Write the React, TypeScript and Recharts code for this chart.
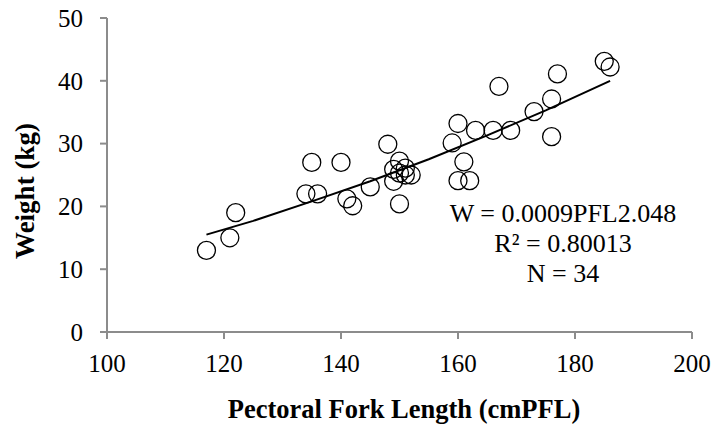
import React from 'react';
import { ScatterChart, Scatter, XAxis, YAxis } from 'recharts';

// Pectoral fork length (cm) and weight (kg) of each fish
const pflValues = [
  117, 121, 122, 134, 135, 136, 140, 141, 142, 145, 148,
  149, 149, 150, 150, 150, 151, 151, 152,
  159, 160, 160, 161, 162, 163, 166, 167, 169, 173, 176, 176, 177, 185, 186,
];
const weightValues = [
  13, 15, 19, 22, 27, 22, 27, 21.2, 20.1, 23.1, 29.9,
  25.9, 24, 27.2, 25.3, 20.4, 26.1, 25, 25,
  30.1, 33.2, 24.1, 27.1, 24.1, 32.1, 32.1, 39.1, 32.1, 35.1, 37.1, 31.1, 41.1, 43.1, 42.2,
];

// power trend line W = 0.0009 PFL^2.048, sampled along the drawn curve
const trendPfl = [117, 125, 135, 145, 155, 165, 175, 186];
const trendWeight = [15.5, 17.7, 20.8, 24.0, 27.5, 31.3, 35.3, 40.0];

const xTicks = [100, 120, 140, 160, 180, 200];
const yTicks = [0, 10, 20, 30, 40, 50];

const equationLines = ['W = 0.0009PFL2.048', 'R² = 0.80013', 'N = 34'];

const FONT = "'Liberation Serif', 'Times New Roman', serif";
const AXIS_GREY = '#8c8c8c';

const points = pflValues.map((pfl, i) => ({ pfl, weight: weightValues[i] }));
const trend = trendPfl.map((pfl, i) => ({ pfl, weight: trendWeight[i] }));

const OpenCircle = (props: any) => {
  const { cx, cy } = props;
  if (cx == null || cy == null) return null;
  return <circle cx={cx} cy={cy} r={9} fill="none" stroke="#000" strokeWidth={1.3} />;
};

const NoDot = () => null;

// axis titles drawn in the chart's svg
const XTitle = () => (
  <text x={404} y={418} textAnchor="middle" fontFamily={FONT} fontSize={26.5} fontWeight="bold" fill="#000">
    Pectoral Fork Length (cmPFL)
  </text>
);

const YTitle = () => (
  <text
    x={0}
    y={0}
    transform="translate(34, 191) rotate(-90)"
    textAnchor="middle"
    fontFamily={FONT}
    fontSize={27}
    fontWeight="bold"
    fill="#000"
  >
    Weight (kg)
  </text>
);

const App: React.FC = () => {
  const tickStyle = { fill: '#000', fontSize: 25, fontFamily: FONT };

  return (
    <div style={{ position: 'absolute', left: 0, top: 0, width: 713, height: 427, background: '#fff' }}>
      <ScatterChart width={713} height={427} margin={{ top: 18, right: 21, bottom: 55, left: 30 }}>
        <XAxis
          type="number"
          dataKey="pfl"
          domain={[100, 200]}
          ticks={xTicks}
          interval={0}
          stroke={AXIS_GREY}
          strokeWidth={2}
          tickSize={7}
          tickMargin={15}
          height={40}
          tick={tickStyle}
          label={{ content: () => <XTitle /> }}
        />
        <YAxis
          type="number"
          dataKey="weight"
          domain={[0, 50]}
          ticks={yTicks}
          interval={0}
          stroke={AXIS_GREY}
          strokeWidth={2}
          tickSize={7}
          tickMargin={17}
          width={77}
          tick={tickStyle}
          label={{ content: () => <YTitle /> }}
        />
        <Scatter data={points} shape={<OpenCircle />} isAnimationActive={false} />
        <Scatter
          data={trend}
          line={{ stroke: '#000', strokeWidth: 2 }}
          lineType="joint"
          shape={<NoDot />}
          isAnimationActive={false}
        />
      </ScatterChart>
      <div
        style={{
          position: 'absolute',
          left: 413,
          top: 199,
          width: 300,
          textAlign: 'center',
          fontFamily: FONT,
          fontSize: 26,
          lineHeight: '30px',
          color: '#000',
        }}
      >
        {equationLines.map((line) => (
          <div key={line}>{line}</div>
        ))}
      </div>
    </div>
  );
};

export default App;
